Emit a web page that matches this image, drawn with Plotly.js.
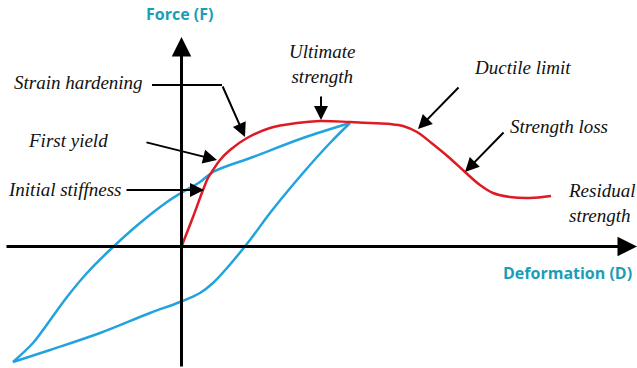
<!DOCTYPE html>
<html>
<head>
<meta charset="utf-8">
<script src="https://cdn.plot.ly/plotly-3.0.1.min.js"></script>
<style>html,body{margin:0;padding:0;background:#fff;}#chart{width:637px;height:368px;}</style>
</head>
<body>
<div id="chart"></div>
<script>
// Backbone (monotonic) curve: deformation / force (arbitrary units)
var backboneD = [0, 11.5, 21.5, 26.5, 31.5, 38.5, 48.5, 65.5, 88.5, 115.5, 138.5, 168.5, 188.5, 208.5, 221.5, 235.5, 250, 267, 283.5, 298.5, 311.5, 328.5, 348.5, 369.5];
var backboneF = [0, 29.5, 56.5, 68.5, 76.5, 86.5, 96.5, 108.5, 118.5, 123.5, 125.5, 124.5, 123.5, 122.5, 120.5, 114.5, 103.5, 89.5, 74.5, 61.5, 53.5, 49.5, 48.5, 50.5];

// Hysteresis loop: unloading branch (from peak to negative tip)
var unloadD = [168.5, 148.5, 121.5, 88.5, 68.5, 45.5, 31.5, 18.5, -1.5, -31.5, -81.5, -131.5, -168.5];
var unloadF = [123.5, 103.5, 73.5, 33.5, 6.5, -21.5, -36.5, -46.5, -55.5, -66.5, -86.5, -103.5, -115.5];
// Reloading branch (from negative tip back to peak)
var reloadD = [-168.5, -148.5, -138.5, -114.5, -94.5, -69.5, -41.5, -14.5, -0.5, 18.5, 31.5, 71.5, 121.5, 168.5];
var reloadF = [-115.5, -96.5, -83.5, -50.5, -26.5, -1.5, 23.5, 44.5, 53.5, 64.5, 74.5, 89.5, 108.5, 123.5];

// Labels: text, anchor point, arrow tail, arrow tip
var labelText = ["Strain hardening", "First yield", "Initial stiffness", "Ultimate<br>strength", "Ductile limit", "Strength loss", "Residual<br>strength"];
var labelX = [-36.5, -71.5, -58.5, 140.5, 340.5, 377.5, 384];
var labelY = [164.5, 106.5, 57.5, 182.5, 179.5, 120.5, 43.5];
var labelAnchor = ["right", "right", "right", "center", "center", "center", "left"];

var arrowTailX = [40.5, -36.5, -56.5, 139.5, 278.5, 323.5];
var arrowTailY = [161.5, 104.5, 56.5, 151.5, 160.5, 115.5];
var arrowTipX = [63.5, 35.5, 22.5, 139.5, 236.5, 283.5];
var arrowTipY = [109.5, 86.5, 56.5, 126.5, 117.5, 74.5];

var axisLabelD = "Deformation (D)";
var axisLabelF = "Force (F)";

var teal = "#1a9db5";
var traces = [
  {x: unloadD, y: unloadF, mode: "lines", line: {color: "#22a3dd", width: 2.5, shape: "spline", smoothing: 1}, hoverinfo: "skip"},
  {x: reloadD, y: reloadF, mode: "lines", line: {color: "#22a3dd", width: 2.5, shape: "spline", smoothing: 1}, hoverinfo: "skip"},
  {x: backboneD, y: backboneF, mode: "lines", line: {color: "#de1a24", width: 2.5, shape: "spline", smoothing: 1}, hoverinfo: "skip"}
];

var ann = [];
// Coordinate axes as arrows
ann.push({x: 455.5, y: 0, ax: -176.5, ay: 0, xref: "x", yref: "y", axref: "x", ayref: "y", text: "", showarrow: true, arrowhead: 2, arrowsize: 1.3, arrowwidth: 3, arrowcolor: "#000"});
ann.push({x: 0, y: 209.5, ax: 0, ay: -121.5, xref: "x", yref: "y", axref: "x", ayref: "y", text: "", showarrow: true, arrowhead: 2, arrowsize: 1.3, arrowwidth: 3, arrowcolor: "#000"});
// Pointer arrows
for (var i = 0; i < arrowTipX.length; i++) {
  ann.push({x: arrowTipX[i], y: arrowTipY[i], ax: arrowTailX[i], ay: arrowTailY[i], xref: "x", yref: "y", axref: "x", ayref: "y", text: "", showarrow: true, arrowhead: 2, arrowsize: 1.4, arrowwidth: 2, arrowcolor: "#000"});
}
// Text labels
for (var j = 0; j < labelText.length; j++) {
  ann.push({x: labelX[j], y: labelY[j], xref: "x", yref: "y", text: labelText[j], showarrow: false, xanchor: labelAnchor[j], yanchor: "middle", align: labelAnchor[j] === "center" ? "center" : "left",
    font: {family: "Liberation Serif, serif", size: 19, color: "#111", style: "italic"}});
}
ann.push({x: -2.5, y: 232.5, xref: "x", yref: "y", text: "<b>" + axisLabelF + "</b>", showarrow: false, font: {family: "Open Sans", size: 16, color: teal}});
ann.push({x: 385.5, y: -26.5, xref: "x", yref: "y", text: "<b>" + axisLabelD + "</b>", showarrow: false, font: {family: "Open Sans", size: 16, color: teal}});

var layout = {
  width: 637, height: 368,
  margin: {l: 0, r: 0, t: 0, b: 0},
  paper_bgcolor: "#fff", plot_bgcolor: "#fff",
  showlegend: false,
  xaxis: {range: [-181.5, 455.5], visible: false, fixedrange: true},
  yaxis: {range: [-121.5, 246.5], visible: false, fixedrange: true},
  shapes: [
    {type: "line", xref: "x", yref: "y", x0: -29.5, y0: 161.5, x1: 40.5, y1: 161.5, line: {color: "#000", width: 2}}
  ],
  annotations: ann
};

Plotly.newPlot("chart", traces, layout, {displayModeBar: false, staticPlot: true});
</script>
</body>
</html>
